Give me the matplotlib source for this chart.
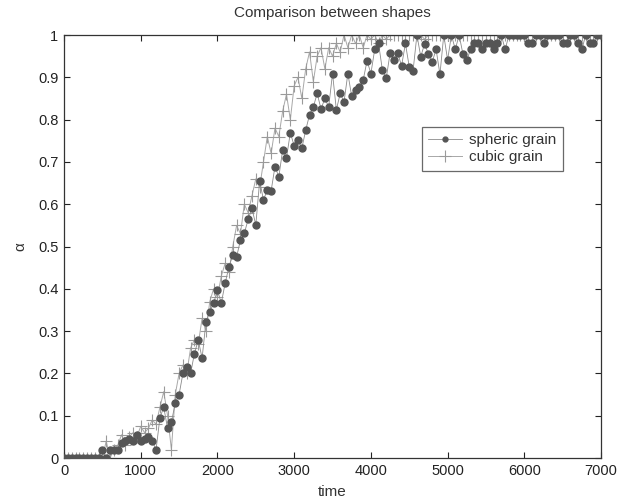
import matplotlib
matplotlib.use("Agg")
import matplotlib.pyplot as plt

plt.rcParams['font.family'] = ['Liberation Sans', 'DejaVu Sans']

time = list(range(0, 7001, 50))

spheric = [
    0, 0, 0, 0, 0, 0, 0, 0, 0, 0,                      # 0-450
    0.02, 0, 0.02, 0.02, 0.02, 0.035, 0.04, 0.045, 0.04, 0.055,   # 500-950
    0.04, 0.045, 0.05, 0.04, 0.02, 0.095, 0.12, 0.07, 0.085, 0.13,  # 1000-1450
    0.15, 0.20, 0.215, 0.20, 0.247, 0.279, 0.236, 0.322, 0.346, 0.366,  # 1500-1950
    0.397, 0.366, 0.413, 0.452, 0.48, 0.476, 0.515, 0.531, 0.564, 0.59,  # 2000-2450
    0.551, 0.655, 0.61, 0.634, 0.632, 0.689, 0.665, 0.728, 0.71, 0.769,  # 2500-2950
    0.738, 0.752, 0.732, 0.775, 0.811, 0.83, 0.862, 0.825, 0.85, 0.83,  # 3000-3450
    0.909, 0.823, 0.862, 0.842, 0.909, 0.855, 0.87, 0.878, 0.894, 0.939,  # 3500-3950
    0.909, 0.966, 0.98, 0.917, 0.898, 0.957, 0.94, 0.957, 0.927, 0.98,  # 4000-4450
    0.925, 0.916, 1.0, 0.949, 0.979, 0.955, 0.937, 0.966, 0.907, 1.0,  # 4500-4950
    0.941, 1.0, 0.966, 1.0, 0.955, 0.941, 0.966, 0.98, 0.98, 0.966,  # 5000-5450
    0.98, 0.98, 0.966, 0.98, 1.0, 0.966, 1.0, 1.0, 1.0, 1.0,  # 5500-5950
    1.0, 0.98, 0.98, 1.0, 1.0, 0.98, 1.0, 1.0, 1.0, 1.0,  # 6000-6450
    0.98, 0.98, 1.0, 1.0, 0.98, 0.966, 1.0, 0.98, 0.98, 1.0,  # 6500-6950
    1.0,  # 7000
]

cubic = [
    0, 0, 0, 0, 0, 0, 0, 0, 0, 0,
    0, 0.04, 0.0, 0.02, 0.03, 0.055, 0.03, 0.05, 0.06, 0.05,
    0.075, 0.06, 0.07, 0.09, 0.08, 0.12, 0.157, 0.10, 0.02, 0.15,
    0.20, 0.22, 0.20, 0.26, 0.28, 0.27, 0.33, 0.30, 0.37, 0.40,
    0.38, 0.43, 0.46, 0.44, 0.50, 0.55, 0.53, 0.60, 0.58, 0.62,
    0.66, 0.64, 0.70, 0.76, 0.72, 0.78, 0.76, 0.82, 0.86, 0.80,
    0.88, 0.90, 0.85, 0.92, 0.96, 0.89, 0.95, 0.97, 0.92, 0.97,
    0.95, 0.98, 0.96, 1.0, 0.97, 1.0, 0.98, 1.0, 0.97, 1.0,
    0.99, 1.0, 0.98, 1.0, 0.99, 1.0, 1.0, 1.0, 1.0, 1.0,
    1.0, 1.0, 1.0, 1.0, 0.99, 1.0, 1.0, 1.0, 1.0, 1.0,
    1.0, 1.0, 1.0, 1.0, 1.0, 1.0, 1.0, 1.0, 1.0, 1.0,
    1.0, 1.0, 1.0, 1.0, 1.0, 1.0, 1.0, 1.0, 1.0, 1.0,
    1.0, 1.0, 1.0, 1.0, 1.0, 1.0, 1.0, 1.0, 1.0, 1.0,
    1.0, 1.0, 1.0, 1.0, 1.0, 1.0, 1.0, 1.0, 1.0, 1.0,
    1.0,
]

xticks = [0, 1000, 2000, 3000, 4000, 5000, 6000, 7000]
yticks = [0, 0.1, 0.2, 0.3, 0.4, 0.5, 0.6, 0.7, 0.8, 0.9, 1]
ytick_labels = ['0', '0.1', '0.2', '0.3', '0.4', '0.5', '0.6', '0.7', '0.8', '0.9', '1']

fig = plt.figure(figsize=(6.19, 5.01), dpi=100)
ax = fig.add_axes([0.1034, 0.0858, 0.8676, 0.8443])

ax.plot(time, cubic, color='#a8a8a8', lw=0.7, marker='+', ms=9, mew=0.8,
        mec='#9a9a9a', label='cubic grain', zorder=2)
ax.plot(time, spheric, color='#8a8a8a', lw=0.6, marker='o', ms=5,
        mfc='#555555', mec='#555555', label='spheric grain', zorder=3)

ax.set_xlim(0, 7000)
ax.set_ylim(0, 1)
ax.set_xticks(xticks)
ax.set_xticklabels([str(x) for x in xticks])
ax.set_yticks(yticks)
ax.set_yticklabels(ytick_labels)
ax.tick_params(direction='in', top=True, right=True, length=4, labelsize=10.5,
               colors='#222222', pad=4)
for s in ax.spines.values():
    s.set_color('#333333')
    s.set_linewidth(0.9)

ax.set_title('Comparison between shapes', fontsize=11, color='#333333', pad=13)
ax.set_xlabel('time', fontsize=11, color='#333333', labelpad=5)
ax.set_ylabel('α', fontsize=11, color='#333333', labelpad=8)

handles, labels = ax.get_legend_handles_labels()
leg = ax.legend(handles[::-1], labels[::-1], loc='upper left',
                bbox_to_anchor=(0.652, 0.80), fontsize=11, frameon=True,
                fancybox=False, edgecolor='#444444', handlelength=2.2,
                borderpad=0.4, labelspacing=0.2, handletextpad=0.5)
leg.get_frame().set_linewidth(0.9)
leg.legend_handles[0].set_markersize(3.5)
for t in leg.get_texts():
    t.set_color('#333333')

fig.savefig('out.png', dpi=100)
